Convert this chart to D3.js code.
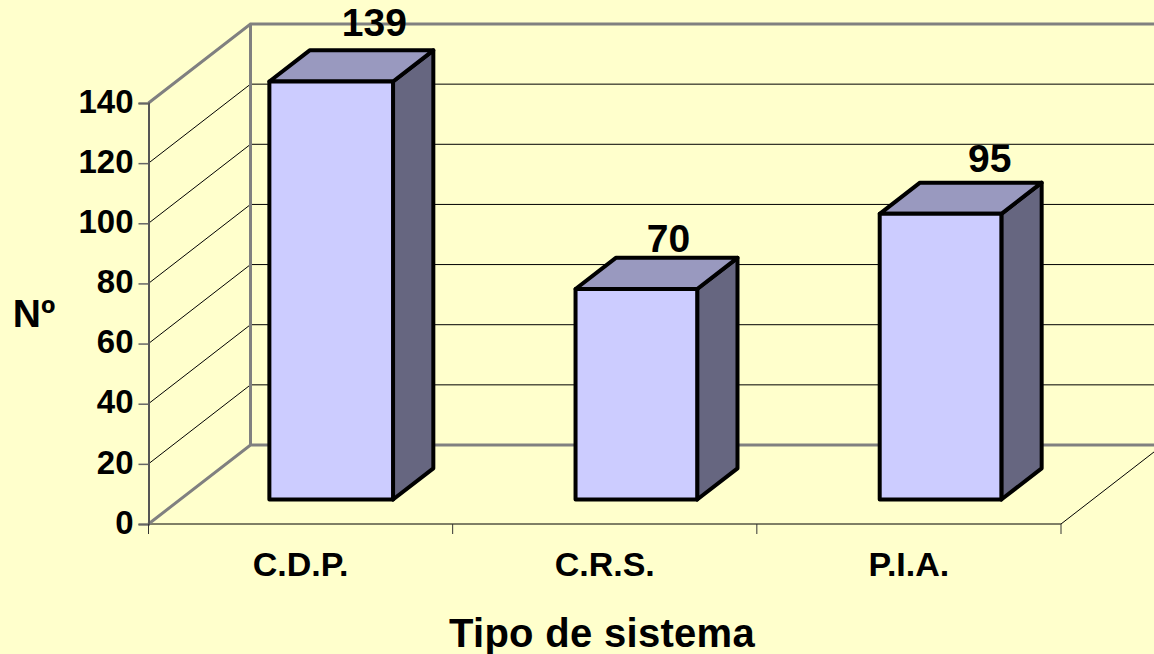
<!DOCTYPE html>
<script src="https://d3js.org/d3.v7.min.js"></script>
<style>
body { margin: 0; background: #ffffcc; overflow: hidden; }
svg { display: block; font-family: "Liberation Sans", Arial, sans-serif; font-weight: bold; }
</style>
<div id="chart"></div>
<script>
var categories = ["C.D.P.", "C.R.S.", "P.I.A."];
var values = [139, 70, 95];
var yTicks = [0, 20, 40, 60, 80, 100, 120, 140];

var width = 1154, height = 654;
var wall = "#808080", front = "#ccccff", topFace = "#9999bf", sideFace = "#666680";

var svg = d3.select("#chart").append("svg").attr("width", width).attr("height", height);

var x = d3.scaleBand().domain(categories).range([148.5, 1061]);
var y = d3.scaleLinear().domain([0, 140]).range([524, 103]);

// depth of the 3d box, 0 = front edge of floor, 1 = back wall
var depthX = d3.scaleLinear().domain([0, 1]).range([0, 102]);
var depthY = d3.scaleLinear().domain([0, 1]).range([0, -79]);
var px = function(a, d) { return a + depthX(d); };
var py = function(b, d) { return b + depthY(d); };

var ymax = 140;
var left = x.range()[0], floorRight = x.range()[1];

// gridlines, side wall then back wall
var grid = svg.append("g").attr("fill", "none").attr("stroke", "#000").attr("stroke-width", 1);
yTicks.filter(function(t) { return t > 0 && t < ymax; }).forEach(function(t) {
  grid.append("path").attr("d", d3.line()([
    [px(left, 0), py(y(t), 0)], [px(left, 1), py(y(t), 1)], [width + 10, py(y(t), 1)]
  ]));
});

// floor outline
grid.append("path").attr("d", d3.line()([
  [left, y(0)], [floorRight, y(0)], [px(floorRight, 1), py(y(0), 1)]
]));

// grey wall edges
var walls = svg.append("g").attr("fill", "none").attr("stroke", wall).attr("stroke-width", 3);
walls.append("path").attr("d", d3.line()([
  [left, y(0)], [px(left, 1), py(y(0), 1)], [width + 10, py(y(0), 1)]
]));
walls.append("path").attr("d", d3.line()([
  [left, y(ymax)], [px(left, 1), py(y(ymax), 1)], [width + 10, py(y(ymax), 1)]
]));
walls.append("path").attr("d", d3.line()([
  [px(left, 1), py(y(0), 1)], [px(left, 1), py(y(ymax), 1)]
]));

// y axis
var yAxis = svg.append("g").attr("transform", "translate(" + left + ",0)")
  .call(d3.axisLeft(y).tickValues(yTicks).tickSize(10).tickPadding(5));
yAxis.selectAll("path").attr("stroke", "#555").attr("stroke-width", 2);
yAxis.selectAll("line").attr("stroke", "#666").attr("stroke-width", 1.5);
yAxis.selectAll("text").attr("font-size", 33).attr("font-family", "Liberation Sans").attr("font-weight", "bold").attr("fill", "#000").attr("dy", "0.28em");

// x axis labels, ticks sit on the band edges
var xAxis = svg.append("g").attr("transform", "translate(0," + y(0) + ")")
  .call(d3.axisBottom(x).tickSize(0).tickPadding(28));
xAxis.select(".domain").remove();
xAxis.selectAll("text").attr("font-size", 34).attr("font-family", "Liberation Sans").attr("font-weight", "bold").attr("fill", "#000");
categories.concat(["end"]).forEach(function(c) {
  var tx = c == "end" ? floorRight : x(c);
  svg.append("line").attr("x1", tx).attr("x2", tx).attr("y1", y(0)).attr("y2", y(0) + 10).attr("stroke", "#333");
});

// bars
var barW = x.bandwidth() * 0.4;
var barD0 = 0.31, barD1 = 0.705;
// the first box is a bit wider in the original, and the value labels are not placed evenly
var barGrow = [2, 0, 0];
var labelDx = [22, 12, 29];
var labelDy = [14, 6, 11];
var bars = svg.append("g").attr("stroke", "#000").attr("stroke-width", 4).attr("stroke-linejoin", "round");
categories.forEach(function(c, i) {
  var r = x(c) + (x.bandwidth() + barW) / 2, l = r - barW - barGrow[i];
  var t = y(values[i]), b = y(0);
  var line = d3.line();
  var g = bars.append("g");
  g.append("path").attr("fill", sideFace).attr("d", line([
    [px(r, barD0), py(t, barD0)], [px(r, barD1), py(t, barD1)], [px(r, barD1), py(b, barD1)], [px(r, barD0), py(b, barD0)]
  ]) + "Z");
  g.append("path").attr("fill", topFace).attr("d", line([
    [px(l, barD0), py(t, barD0)], [px(l, barD1), py(t, barD1)], [px(r, barD1), py(t, barD1)], [px(r, barD0), py(t, barD0)]
  ]) + "Z");
  g.append("path").attr("fill", front).attr("d", line([
    [px(l, barD0), py(t, barD0)], [px(r, barD0), py(t, barD0)], [px(r, barD0), py(b, barD0)], [px(l, barD0), py(b, barD0)]
  ]) + "Z");
  // value above the box
  svg.append("text").attr("x", (px(r - barW, barD0) + px(r, barD1)) / 2 + labelDx[i]).attr("y", py(t, barD1) - labelDy[i])
    .attr("text-anchor", "middle").attr("font-size", 39).text(values[i]);
});

// axis titles
svg.append("text").attr("x", 34).attr("y", 327).attr("text-anchor", "middle").attr("font-size", 39).text("Nº");
svg.append("text").attr("x", 602).attr("y", 647).attr("text-anchor", "middle").attr("font-size", 40).attr("letter-spacing", 0.3).text("Tipo de sistema");
</script>
